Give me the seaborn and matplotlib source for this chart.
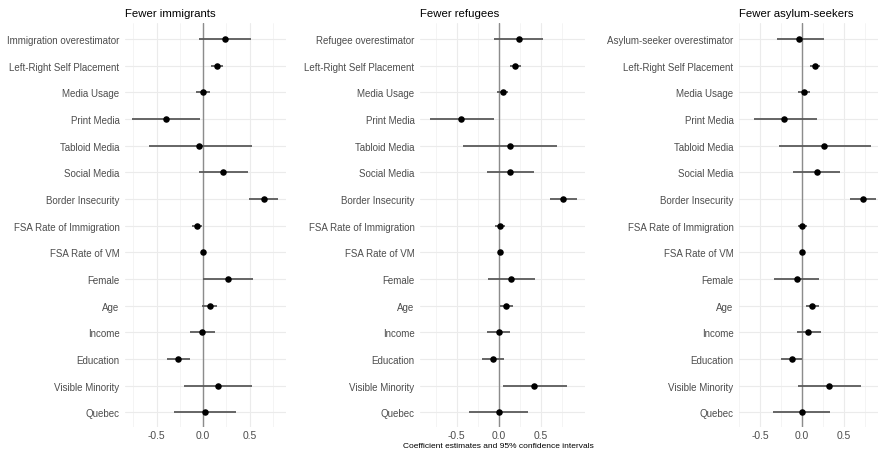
import numpy as np
import pandas as pd

import matplotlib
matplotlib.use("Agg")

import matplotlib.pyplot as plt
import seaborn as sns

# ---------------------------- DATA ---------------------------------

PANEL_TITLES = ["Fewer immigrants", "Fewer refugees", "Fewer asylum-seekers"]

SHARED_TERMS = [
    "Left-Right Self Placement", "Media Usage", "Print Media", "Tabloid Media",
    "Social Media", "Border Insecurity", "FSA Rate of Immigration",
    "FSA Rate of VM", "Female", "Age", "Income", "Education",
    "Visible Minority", "Quebec",
]
FIRST_TERMS = ["Immigration overestimator", "Refugee overestimator",
               "Asylum-seeker overestimator"]

# estimates, lower and upper 95% bounds (top row first)
immig_est = [0.23, 0.15, 0.00, -0.40, -0.04, 0.21, 0.65, -0.07, 0.00, 0.27, 0.07, -0.01, -0.27, 0.16, 0.02]
immig_lo = [-0.05, 0.08, -0.08, -0.76, -0.58, -0.05, 0.49, -0.12, -0.01, 0.00, -0.01, -0.14, -0.39, -0.21, -0.31]
immig_hi = [0.51, 0.21, 0.07, -0.03, 0.53, 0.48, 0.80, -0.01, 0.01, 0.54, 0.15, 0.13, -0.14, 0.53, 0.35]

refug_est = [0.24, 0.20, 0.05, -0.45, 0.13, 0.14, 0.77, 0.02, 0.01, 0.15, 0.09, 0.00, -0.07, 0.42, 0.00]
refug_lo = [-0.06, 0.13, -0.02, -0.82, -0.43, -0.14, 0.61, -0.04, -0.01, -0.13, 0.01, -0.14, -0.20, 0.05, -0.35]
refug_hi = [0.53, 0.27, 0.11, -0.06, 0.70, 0.42, 0.94, 0.08, 0.02, 0.43, 0.17, 0.14, 0.06, 0.81, 0.35]

asyl_est = [-0.03, 0.16, 0.03, -0.21, 0.27, 0.18, 0.73, 0.00, 0.00, -0.06, 0.12, 0.08, -0.12, 0.33, 0.00]
asyl_lo = [-0.30, 0.10, -0.04, -0.57, -0.27, -0.10, 0.57, -0.04, -0.01, -0.33, 0.05, -0.06, -0.25, -0.05, -0.34]
asyl_hi = [0.26, 0.22, 0.10, 0.18, 0.83, 0.46, 0.89, 0.06, 0.01, 0.21, 0.20, 0.23, 0.00, 0.71, 0.34]

X_LIMITS = [(-0.84, 0.89), (-0.94, 1.03), (-0.64, 0.91)]

# ---------------------------- PLOT ---------------------------------

sns.set_theme(style="whitegrid")
plt.rcParams["font.family"] = ["Liberation Sans", "DejaVu Sans"]

W, H = 881, 452
fig = plt.figure(figsize=(W / 100, H / 100), dpi=100)

# panel boxes in pixels: left, right
panel_px = [(125, 286), (420, 585), (739, 878)]
top_px, bot_px = 24, 428

series = [
    (immig_est, immig_lo, immig_hi),
    (refug_est, refug_lo, refug_hi),
    (asyl_est, asyl_lo, asyl_hi),
]

for i, (title, (est, lo, hi)) in enumerate(zip(PANEL_TITLES, series)):
    left, right = panel_px[i]
    ax = fig.add_axes([left / W, 1 - bot_px / H, (right - left) / W,
                       (bot_px - top_px) / H])
    terms = [FIRST_TERMS[i]] + SHARED_TERMS
    df = pd.DataFrame({"term": terms, "est": est, "lo": lo, "hi": hi})
    df["pos"] = np.arange(len(df))

    ax.axvline(0, color="#8c8c8c", lw=1.0, zorder=1)
    ax.hlines(df["pos"], df["lo"], df["hi"], color="#5a5a5a", lw=1.3, zorder=2)
    sns.scatterplot(data=df, x="est", y="pos", ax=ax, color="black", s=22,
                    edgecolor="black", linewidth=0, zorder=3, legend=False)

    ax.set_xlim(*X_LIMITS[i])
    ax.set_ylim(len(df) - 0.45, -0.6)
    ax.set_yticks(df["pos"])
    ax.set_yticklabels(df["term"])
    ax.set_xticks([-0.5, 0.0, 0.5])
    ax.set_xticklabels(["-0.5", "0.0", "0.5"])
    ax.set_xticks([-0.75, -0.25, 0.25, 0.75], minor=True)
    ax.grid(True, which="major", color="#ebebeb", lw=0.8)
    ax.grid(True, which="minor", axis="x", color="#f3f3f3", lw=0.6)
    ax.set_facecolor("white")
    for s in ax.spines.values():
        s.set_visible(False)
    ax.tick_params(axis="y", length=0, pad=4, labelsize=7.0,
                   labelcolor="#4d4d4d")
    ax.tick_params(axis="x", length=0, pad=2, labelsize=7.4,
                   labelcolor="#4d4d4d")
    ax.set_xlabel("")
    ax.set_ylabel("")
    ax.set_title(title, loc="left", fontsize=8.2, color="black", pad=5)

fig.text(498 / W, 1 - 447 / H, "Coefficient estimates and 95% confidence intervals",
         ha="center", va="center", fontsize=6.0, color="black")

fig.savefig("out.png", dpi=100, facecolor="white")
